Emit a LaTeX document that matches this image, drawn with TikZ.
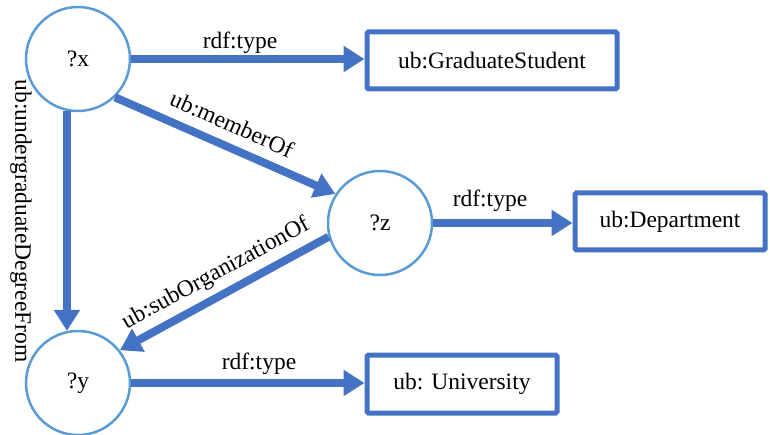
\documentclass[tikz,border=0pt]{standalone}
\usepackage{fontspec}
\setmainfont{Liberation Serif}
\usetikzlibrary{arrows.meta}
\definecolor{boxblue}{RGB}{68,114,196}
\definecolor{circblue}{RGB}{91,155,213}
\begin{document}
\begin{tikzpicture}[x=1pt,y=-1pt,
  every node/.style={font=\fontsize{23.5}{28}\selectfont, text=black},
  var/.style={circle, draw=circblue, line width=2.5pt, minimum size=104pt, inner sep=0pt},
  cls/.style={rectangle, draw=boxblue, line width=5pt, rounded corners=1.5pt, inner sep=0pt},
  rel/.style={draw=boxblue, line width=8pt, -{Triangle[length=21pt,width=25pt]}},
  lbl/.style={inner sep=0pt}]
\useasboundingbox (0,0) rectangle (770,435);
\node[var] (x) at (78,59) {?x};
\node[var] (z) at (380,223) {?z};
\node[var] (y) at (78,383) {?y};
\node[cls, minimum width=250pt, minimum height=57pt] (gs) at (492,60.5) {ub:GraduateStudent\hspace{11pt}};
\node[cls, minimum width=190pt, minimum height=57pt] (dep) at (670,221.5) {ub:Department};
\node[cls, minimum width=190pt, minimum height=58pt] (uni) at (462,384) {ub: University};

\draw[rel] (x.east) -- (x.east -| gs.west);
\draw[rel] (x.-46) -- (z.147);
\draw[rel] (x.258) -- (y.102);
\draw[rel] (z.195) -- (y.38);
\draw[rel] (z.east) -- (z.east -| dep.west);
\draw[rel] (y.east) -- (y.east -| uni.west);

\node[lbl] (l1) at (240,43) {rdf:type};
\node[lbl, rotate=-24] (l2) at (232,124) {ub:memberOf};
\node[lbl, rotate=-90] (l3) at (21,221) {ub:undergraduateDegreeFrom};
\node[lbl, rotate=28.6] (l4) at (216,274) {ub:subOrganizationOf};
\node[lbl] (l5) at (490,201) {rdf:type};
\node[lbl] (l6) at (259,364) {rdf:type};
\end{tikzpicture}
\end{document}
